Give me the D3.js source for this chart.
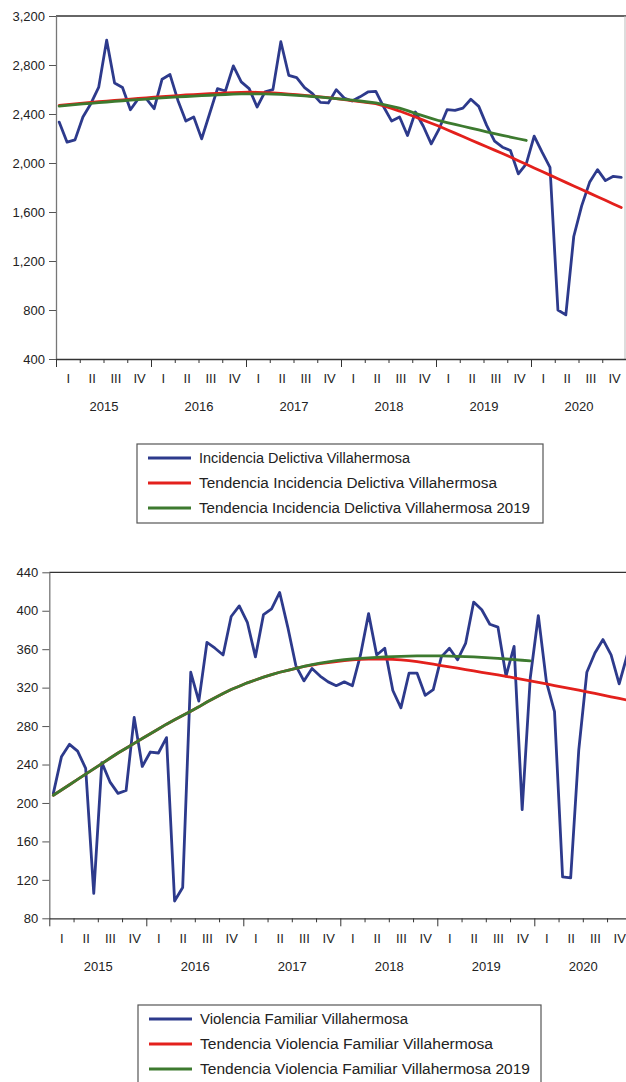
<!DOCTYPE html>
<html>
<head>
<meta charset="utf-8">
<script src="https://cdn.jsdelivr.net/npm/d3@7"></script>
<style>
  html, body { margin: 0; padding: 0; background: #fff; }
  svg { display: block; }
  text { font-family: "Liberation Sans", Arial, sans-serif; fill: #222; -webkit-font-smoothing: antialiased; }
</style>
</head>
<body>
<svg id="chart" width="626" height="1082"></svg>
<script>
// ---------------- DATA ----------------
const yearLabels = ["2015", "2016", "2017", "2018", "2019", "2020"];
const quarterLabels = ["I", "II", "III", "IV"];

const incidenciaTicks = [400, 800, 1200, 1600, 2000, 2400, 2800, 3200];
const violenciaTicks = [80, 120, 160, 200, 240, 280, 320, 360, 400, 440];

// Monthly values, Jan 2015 - Dec 2020
const incidencia = [
  2334, 2170, 2189, 2375, 2484, 2620, 3003, 2653, 2616, 2435, 2525, 2525,
  2443, 2684, 2722, 2511, 2342, 2375, 2197, 2402, 2607, 2588, 2793, 2662,
  2607, 2457, 2580, 2599, 2990, 2716, 2697, 2616, 2566, 2495, 2490, 2599,
  2530, 2506, 2540, 2580, 2585, 2457, 2342, 2375, 2225, 2416, 2300, 2156,
  2279, 2435, 2430, 2448, 2520, 2462, 2307, 2178, 2129, 2102, 1911, 1993,
  2219, 2088, 1965, 800, 760, 1400, 1650, 1842, 1946, 1856, 1891, 1883
];
const tendIncidencia = [
  2470, 2476, 2482, 2488, 2494, 2500, 2505, 2511, 2516, 2521, 2527, 2532,
  2537, 2541, 2546, 2550, 2555, 2559, 2562, 2566, 2569, 2572, 2575, 2577,
  2578, 2577, 2575, 2572, 2568, 2563, 2558, 2552, 2546, 2540, 2533, 2526,
  2518, 2510, 2501, 2493, 2485, 2466, 2446, 2424, 2400, 2375, 2350, 2325,
  2300, 2272, 2244, 2216, 2188, 2160, 2133, 2105, 2078, 2049, 2019, 1990,
  1960, 1930, 1901, 1871, 1842, 1813, 1784, 1754, 1725, 1696, 1666, 1637
];
const tendIncidencia2019 = [
  2465, 2471, 2476, 2482, 2487, 2493, 2498, 2503, 2508, 2513, 2518, 2522,
  2527, 2531, 2535, 2539, 2543, 2546, 2550, 2553, 2556, 2559, 2562, 2564,
  2565, 2565, 2564, 2562, 2560, 2556, 2552, 2548, 2543, 2538, 2532, 2526,
  2520, 2513, 2506, 2498, 2490, 2476, 2462, 2448, 2428, 2405, 2385, 2365,
  2345, 2330, 2315, 2300, 2285, 2270, 2255, 2240, 2226, 2212, 2198, 2184
];

const violencia = [
  210, 248, 261, 254, 236, 106, 242, 222, 210, 213, 289, 238,
  253, 252, 268, 98, 112, 336, 306, 367, 361, 354, 394, 405,
  388, 352, 396, 402, 419, 383, 343, 327, 340, 332, 326, 322,
  326, 322, 354, 397, 354, 361, 317, 299, 335, 335, 312, 318,
  352, 361, 349, 366, 409, 401, 386, 383, 332, 363, 193, 330,
  395, 326, 295, 123, 122, 255, 336, 356, 370, 354, 324, 354
];
const tendViolencia = [
  208, 213.5, 219, 224.5, 230, 235.5, 241, 246.5, 252, 257, 262, 267,
  272, 277, 282, 286.5, 291, 295.5, 300, 305, 309.5, 314, 318, 321.5,
  325, 328, 331, 333.5, 336, 338, 340, 342, 343.5, 345, 346, 347,
  348, 348.8, 349.5, 349.8, 350, 349.8, 349.5, 348.8, 348, 347, 345.8, 344.5,
  343, 341.6, 340.2, 338.8, 337.4, 336, 334.6, 333.2, 331.8, 330.2, 328.6, 327,
  325.4, 323.8, 322.2, 320.6, 319, 317.3, 315.6, 313.9, 312.2, 310.5, 308.8, 307
];
const tendViolencia2019 = [
  208, 213.5, 219, 224.5, 230, 235.5, 241, 246.5, 252, 257, 262, 267,
  272, 277, 282, 286.5, 291, 295.5, 300, 305, 309.5, 314, 318, 321.5,
  325, 328, 331, 333.5, 336, 338, 340, 342.2, 344, 345.5, 346.8, 348,
  349, 349.8, 350.5, 351, 351.5, 352, 352.3, 352.6, 352.8, 353, 353, 353,
  353, 352.8, 352.6, 352.3, 352, 351.5, 351, 350.4, 349.8, 349.2, 348.5, 347.8
];

const legendIncidencia = [
  "Incidencia Delictiva Villahermosa",
  "Tendencia Incidencia Delictiva Villahermosa",
  "Tendencia Incidencia Delictiva Villahermosa 2019"
];
const legendViolencia = [
  "Violencia Familiar Villahermosa",
  "Tendencia Violencia Familiar Villahermosa",
  "Tendencia Violencia Familiar Villahermosa 2019"
];

// ---------------- DRAWING ----------------
const COLORS = ["#2d3a8c", "#e3201c", "#3d7a2f"];
const FONT = "Liberation Sans, Arial, sans-serif";
const svg = d3.select("#chart");

function styleText(sel) {
  sel.attr("font-size", 13).attr("font-family", FONT).attr("fill", "#2a2a2a");
}

function drawChart(cfg) {
  const g = svg.append("g");
  const nMonths = yearLabels.length * 12;
  const x = d3.scaleLinear().domain([0, nMonths])
    .range([cfg.left, cfg.left + yearLabels.length * cfg.yearW]);
  const y = d3.scaleLinear().domain(cfg.yDomain).range([cfg.bottom, cfg.top]);

  // frame top + right
  g.append("line").attr("x1", cfg.left).attr("x2", 626)
    .attr("y1", cfg.top).attr("y2", cfg.top)
    .attr("stroke", "#333").attr("stroke-width", 1.3);
  if (cfg.rightBorder) {
    g.append("line").attr("x1", 625).attr("x2", 625)
      .attr("y1", cfg.top).attr("y2", cfg.bottom)
      .attr("stroke", "#bbb").attr("stroke-width", 1);
  }

  // y axis
  const ya = g.append("g").attr("transform", `translate(${cfg.left},0)`)
    .call(d3.axisLeft(y).tickValues(cfg.yTicks).tickFormat(d3.format(","))
      .tickSizeInner(7).tickSizeOuter(0).tickPadding(4));
  ya.select(".domain").attr("stroke", "#777").attr("stroke-width", 1.3);
  ya.selectAll(".tick line").attr("stroke", "#555");
  styleText(ya.selectAll(".tick text"));

  // x axis: quarter ticks
  const qTicks = d3.range(0, nMonths + 1, 3);
  const xa = g.append("g").attr("transform", `translate(0,${cfg.bottom})`)
    .call(d3.axisBottom(x).tickValues(qTicks).tickFormat("").tickSizeOuter(0));
  xa.select(".domain").attr("stroke", "#333").attr("stroke-width", 1.3);
  xa.selectAll(".tick line").attr("stroke", "#333")
    .attr("y2", d => d % 12 === 0 ? 8 : 4);

  // quarter labels
  const qCenters = d3.range(0, nMonths, 3).map(m => m + 1.5);
  const xq = g.append("g").attr("transform", `translate(0,${cfg.bottom})`)
    .call(d3.axisBottom(x).tickValues(qCenters)
      .tickFormat((d, i) => quarterLabels[i % 4]).tickSize(0).tickPadding(15));
  xq.select(".domain").remove();
  styleText(xq.selectAll(".tick text"));

  // year labels
  const yCenters = d3.range(0, nMonths, 12).map(m => m + 6);
  const xy = g.append("g").attr("transform", `translate(0,${cfg.bottom})`)
    .call(d3.axisBottom(x).tickValues(yCenters)
      .tickFormat((d, i) => yearLabels[i]).tickSize(0).tickPadding(43));
  xy.select(".domain").remove();
  styleText(xy.selectAll(".tick text"));

  // series
  const line = d3.line().x((d, i) => x(i + cfg.offset)).y(d => y(d));
  cfg.series.forEach((s, k) => {
    g.append("path").datum(s).attr("d", line)
      .attr("fill", "none").attr("stroke", COLORS[k])
      .attr("stroke-width", 2.8).attr("stroke-linejoin", "round")
      .attr("stroke-linecap", "round");
  });

  // legend
  const L = cfg.legend;
  const lg = g.append("g");
  lg.append("rect").attr("x", L.x).attr("y", L.y).attr("width", L.w).attr("height", L.h)
    .attr("fill", "#fff").attr("stroke", "#555").attr("stroke-width", 1.2);
  cfg.labels.forEach((lab, k) => {
    const cy = L.y + 14 + k * 25;
    lg.append("line").attr("x1", L.x + 11).attr("x2", L.x + 54)
      .attr("y1", cy).attr("y2", cy)
      .attr("stroke", COLORS[k]).attr("stroke-width", 3);
    lg.append("text").attr("x", L.x + 62).attr("y", cy).attr("dy", "0.36em")
      .attr("font-size", 14).attr("font-family", FONT).attr("fill", "#2a2a2a")
      .attr("textLength", L.textW[k]).attr("lengthAdjust", "spacingAndGlyphs")
      .text(lab);
  });
}

drawChart({
  left: 56, yearW: 95, top: 16, bottom: 359, offset: 0.4,
  yDomain: [400, 3200], yTicks: incidenciaTicks, rightBorder: true,
  series: [incidencia, tendIncidencia, tendIncidencia2019],
  labels: legendIncidencia,
  legend: { x: 137, y: 444, w: 406, h: 79, textW: [211, 298, 331] }
});

drawChart({
  left: 49.3, yearW: 97, top: 572.3, bottom: 918.3, offset: 0.5,
  yDomain: [80, 440], yTicks: violenciaTicks, rightBorder: false,
  series: [violencia, tendViolencia, tendViolencia2019],
  labels: legendViolencia,
  legend: { x: 138, y: 1005, w: 403, h: 85, textW: [208, 293, 330] }
});
</script>
</body>
</html>
